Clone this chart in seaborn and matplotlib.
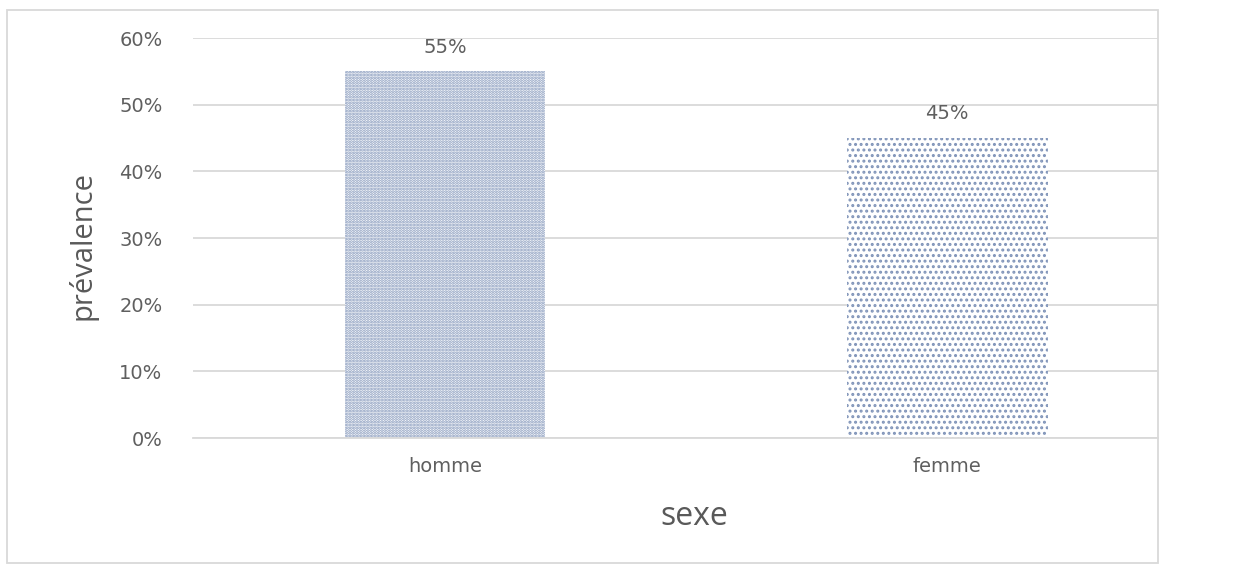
import matplotlib
matplotlib.use("Agg")
import matplotlib.pyplot as plt
import seaborn as sns
import pandas as pd
from matplotlib.patches import Rectangle
from matplotlib.ticker import PercentFormatter

sexe = ["homme", "femme"]
prevalence = [55, 45]
hatches = ["......", "..."]

sns.set_style("white")
plt.rcParams["font.family"] = ["DejaVu Sans"]
plt.rcParams["hatch.linewidth"] = 1.4

df = pd.DataFrame({"sexe": sexe, "prevalence": prevalence})

fig = plt.figure(figsize=(12.33, 5.65), dpi=100)
W, H = 1233, 565
ax = fig.add_axes([193 / W, 1 - 438 / H, 965 / W, 400 / H])

sns.barplot(data=df, x="sexe", y="prevalence", ax=ax, width=0.4,
            color="white", edgecolor="#7F93B8", linewidth=0)
for bar, h in zip(ax.patches, hatches):
    bar.set_hatch(h)
    bar.set_linewidth(0)

for bar, v in zip(ax.patches, prevalence):
    ax.text(bar.get_x() + bar.get_width() / 2, v + 2.2, f"{v}%",
            ha="center", va="bottom", fontsize=14, color="#5F5F5F")

ax.set_ylim(0, 60)
ax.set_xlim(-0.502, 1.42)
ax.set_yticks(range(0, 61, 10))
ax.yaxis.set_major_formatter(PercentFormatter(decimals=0))
ax.grid(axis="y", color="#D9D9D9", lw=1.3)
ax.set_axisbelow(True)
for s in ["top", "right", "left"]:
    ax.spines[s].set_visible(False)
ax.spines["bottom"].set_color("#D9D9D9")
ax.spines["bottom"].set_linewidth(1.3)
ax.tick_params(axis="both", length=0, labelsize=14, labelcolor="#5F5F5F")
ax.tick_params(axis="y", pad=22)
ax.tick_params(axis="x", pad=14)

ax.set_xlabel("sexe", fontsize=23, color="#595959", family="Open Sans")
ax.xaxis.label.set_va("baseline")
ax.xaxis.set_label_coords(0.519, -0.2175)
ax.set_ylabel("prévalence", fontsize=21, color="#595959", family="Open Sans")
ax.yaxis.label.set_va("center")
ax.yaxis.set_label_coords(-0.115, 0.4825)

fig.patches.append(Rectangle((7 / W, 1 - 563 / H), 1151 / W, 553 / H,
                             transform=fig.transFigure, fill=False,
                             edgecolor="#D9D9D9", lw=1.3))

fig.savefig("out.png", dpi=100, facecolor="white")
